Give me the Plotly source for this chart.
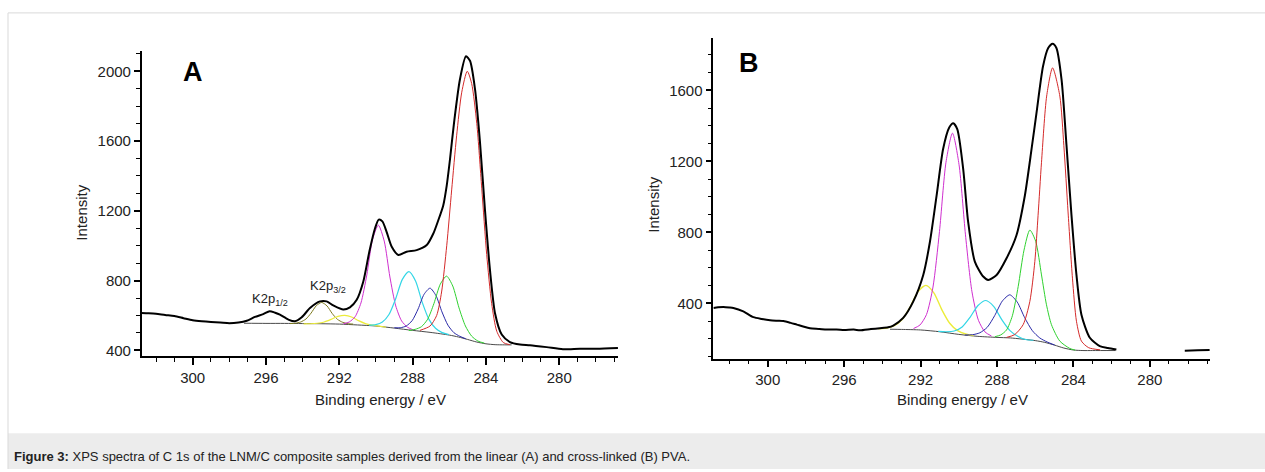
import plotly.graph_objects as go

# ---------------- Panel A (linear PVA) ----------------
A_data_E = [302.8, 302.4, 302.0, 301.5, 301.0, 300.5, 300.0, 299.5, 299.0, 298.5, 298.0, 297.5, 297.05,
            296.6, 296.15, 295.8, 295.5, 295.24, 294.78, 294.42, 294.05, 293.6, 293.05, 292.69, 292.33,
            291.78, 291.42, 291.05, 290.69, 290.36, 290.05, 289.85, 289.65, 289.42, 289.14, 288.78, 288.33,
            287.78, 287.23, 286.87, 286.6, 286.33, 286.14, 285.96, 285.74, 285.42, 285.09, 284.87, 284.6,
            284.33, 284.05, 283.78, 283.5, 283.14, 282.69, 282.14, 281.6, 280.69, 279.8, 278.87, 277.96, 276.8]
A_data_I = [615, 613, 610, 603, 597, 585, 573, 567, 563, 560, 556, 560, 570,
            592, 608, 625, 616, 605, 577, 567, 590, 643, 681, 681, 658,
            634, 647, 690, 795, 967, 1100, 1150, 1140, 1080, 994, 947, 966,
            975, 1004, 1070, 1146, 1231, 1345, 1497, 1706, 1953, 2086, 2060, 1900,
            1600, 1200, 860, 610, 491, 448, 434, 430, 419, 407, 410, 410, 414]

A_base_E = [297.2, 296.0, 295.0, 294.0, 293.0, 292.0, 291.0, 290.0, 289.0, 288.0, 287.0, 286.0, 285.5,
            285.0, 284.5, 284.0, 283.5, 283.0, 282.6]
A_base_I = [556, 555, 555, 554, 553, 551, 546, 540, 528, 515, 503, 488, 477,
            463, 448, 438, 433, 432, 432]

A_red_E = [287.6, 287.05, 286.69, 286.42, 286.14, 285.87, 285.6, 285.32, 285.02, 284.78, 284.5, 284.23,
           283.96, 283.69, 283.41, 283.05, 282.7]
A_red_I = [515, 540, 600, 735, 1000, 1320, 1630, 1880, 2000, 1930, 1700, 1330, 950, 670, 510, 445, 433]

A_green_E = [288.21, 287.86, 287.52, 287.18, 286.84, 286.49, 286.15, 285.81, 285.47, 285.12, 284.78, 284.44, 284.09]
A_green_I = [514, 521, 536, 579, 668, 780, 826, 769, 644, 540, 482, 454, 442]

A_blue_E = [289.0, 288.675, 288.35, 288.025, 287.7, 287.375, 287.05, 286.725, 286.4, 286.075, 285.75, 285.425, 285.1]
A_blue_I = [530, 530, 540, 571, 638, 722, 757, 714, 621, 545, 502, 481, 467]

A_cyan_E = [290.38, 290.01, 289.65, 289.29, 288.93, 288.56, 288.2, 287.84, 287.48, 287.11, 286.75, 286.39, 286.03]
A_cyan_I = [545, 548, 563, 606, 695, 807, 852, 798, 677, 578, 527, 502, 491]

A_magenta_E = [291.78, 291.46, 291.14, 290.82, 290.5, 290.19, 289.87, 289.55, 289.24, 288.92, 288.6, 288.28, 287.97]
A_magenta_I = [553, 563, 593, 672, 832, 1034, 1118, 1027, 821, 655, 569, 533, 518]

A_yellow_E = [293.95, 293.575, 293.2, 292.825, 292.45, 292.075, 291.7, 291.325, 290.95, 290.575, 290.2, 289.825, 289.45]
A_yellow_I = [552, 553, 556, 563, 578, 595, 601, 592, 571, 554, 545, 539, 533]

A_olive_E = [294.69, 294.4, 294.11, 293.82, 293.54, 293.25, 292.96, 292.67, 292.39, 292.1, 291.81, 291.52, 291.24]
A_olive_I = [554, 556, 563, 580, 614, 657, 675, 655, 612, 578, 561, 553, 551]

# ---------------- Panel B (cross-linked PVA) ----------------
B_data_E = [302.84, 302.6, 302.32, 302.0, 301.8, 301.28, 300.75, 300.3, 299.88, 299.5, 299.18, 298.8, 298.48,
            298.1, 297.79, 297.3, 296.91, 296.4, 296.0, 295.5, 295.17, 294.6, 294.13, 293.7, 293.43, 292.91,
            292.38, 291.86, 291.51, 291.16, 290.82, 290.5, 290.29, 290.08, 289.77, 289.51, 289.16, 288.72,
            288.46, 288.02, 287.5, 286.98, 286.54, 286.19, 285.93, 285.59, 285.32, 285.09, 284.89, 284.62,
            284.36, 284.1, 283.84, 283.58, 283.14, 282.62, 282.2, 281.75, None, 278.17, 277.5, 276.87]
B_data_I = [374, 378, 380, 377, 374, 355, 322, 312, 305, 302, 300, 290, 280,
            268, 260, 256, 252, 253, 250, 252, 248, 255, 260, 265, 275, 318,
            411, 560, 747, 1008, 1270, 1391, 1415, 1382, 1158, 859, 635, 551,
            532, 560, 654, 784, 1008, 1270, 1475, 1736, 1839, 1863, 1839, 1661,
            1288, 896, 560, 336, 206, 159, 148, 140, None, 133, 135, 137]

B_base_E = [293.6, 293.0, 292.0, 291.0, 290.0, 289.0, 288.0, 287.3, 286.0, 285.5, 285.0, 284.5, 284.0,
            283.5, 283.0, 281.8]
B_base_I = [254, 253, 250, 240, 225, 214, 208, 205, 190, 180, 165, 148, 137, 134, 134, 134]

B_red_E = [287.5, 287.07, 286.63, 286.28, 286.02, 285.85, 285.67, 285.4, 285.09, 284.71, 284.5, 284.28,
           284.05, 283.84, 283.58, 283.2, 282.6]
B_red_I = [208, 224, 280, 411, 635, 896, 1195, 1568, 1727, 1568, 1288, 915, 542, 299, 187, 150, 138]

B_green_E = [288.11, 287.805, 287.5, 287.195, 286.89, 286.585, 286.28, 285.975, 285.67, 285.41, 285.15,
             284.71, 284.19, 283.9]
B_green_I = [212, 222, 250, 330, 495, 700, 813, 750, 560, 392, 280, 187, 146, 136]

B_blue_E = [289.69, 289.29, 288.9, 288.51, 288.12, 287.72, 287.33, 286.94, 286.55, 286.15, 285.76, 285.37, 284.98]
B_blue_I = [222, 223, 234, 265, 331, 413, 448, 407, 319, 246, 205, 182, 165]

B_cyan_E = [291.07, 290.655, 290.24, 289.825, 289.41, 288.995, 288.58, 288.165, 287.75, 287.335, 286.92, 286.505, 286.09]
B_cyan_I = [242, 240, 244, 267, 321, 388, 416, 382, 308, 248, 215, 196, 192]

B_magenta_E = [292.37, 292.03, 291.69, 291.35, 291.01, 290.67, 290.33, 289.99, 289.65, 289.31, 288.97, 288.63, 288.29]
B_magenta_I = [258, 278, 337, 492, 805, 1195, 1359, 1184, 786, 465, 304, 239, 216]

B_yellow_E = [294.21, 293.795, 293.38, 292.965, 292.55, 292.135, 291.72, 291.305, 290.89, 290.475, 290.06, 289.645, 289.23]
B_yellow_I = [256, 260, 274, 309, 379, 466, 501, 459, 365, 288, 246, 227, 218]

# ---------------- text ----------------
x_title = "Binding energy / eV"
y_title = "Intensity"
caption = ("<b>Figure 3:</b> XPS spectra of C 1s of the LNM/C composite samples derived from the "
           "linear (A) and cross-linked (B) PVA.")

FONT = "Liberation Sans, Arial, sans-serif"
W, H = 1265, 472

fig = go.Figure()


def add(E, I, color, width, xa, ya):
    fig.add_trace(go.Scatter(x=E, y=I, mode="lines", xaxis=xa, yaxis=ya,
                             line=dict(color=color, width=width, shape="spline", smoothing=0.7),
                             connectgaps=False, showlegend=False, hoverinfo="skip"))


C_RED, C_GREEN, C_BLUE = "#d42a2a", "#2fd12f", "#2a2aa8"
C_CYAN, C_MAG, C_YEL, C_OLIVE = "#33d6e6", "#cf2fcf", "#ecec3a", "#7d7a1e"
C_BASE = "#4a4a4a"

# panel A
add(A_base_E, A_base_I, C_BASE, 1, "x", "y")
add(A_olive_E, A_olive_I, C_OLIVE, 1, "x", "y")
add(A_yellow_E, A_yellow_I, C_YEL, 1.2, "x", "y")
add(A_magenta_E, A_magenta_I, C_MAG, 1, "x", "y")
add(A_cyan_E, A_cyan_I, C_CYAN, 1.2, "x", "y")
add(A_blue_E, A_blue_I, C_BLUE, 1, "x", "y")
add(A_green_E, A_green_I, C_GREEN, 1, "x", "y")
add(A_red_E, A_red_I, C_RED, 1, "x", "y")
add(A_data_E, A_data_I, "black", 2, "x", "y")

# panel B
add(B_base_E, B_base_I, C_BASE, 1, "x2", "y2")
add(B_yellow_E, B_yellow_I, C_YEL, 1.4, "x2", "y2")
add(B_magenta_E, B_magenta_I, C_MAG, 1, "x2", "y2")
add(B_cyan_E, B_cyan_I, C_CYAN, 1.2, "x2", "y2")
add(B_blue_E, B_blue_I, C_BLUE, 1, "x2", "y2")
add(B_green_E, B_green_I, C_GREEN, 1, "x2", "y2")
add(B_red_E, B_red_I, C_RED, 1, "x2", "y2")
add(B_data_E, B_data_I, "black", 2, "x2", "y2")


def px_x(p):
    return p / W


def px_y(p):
    return 1 - p / H


common = dict(showline=True, linecolor="black", linewidth=1.5, ticks="outside", tickcolor="black",
              tickwidth=1.5, showgrid=False, zeroline=False, mirror=False,
              tickfont=dict(family=FONT, size=15, color="#222222"))

xminor = dict(ticks="outside", tick0=300, dtick=1, ticklen=4, tickwidth=1.2, tickcolor="black")
yminor = dict(ticks="outside", tick0=0, dtick=100, ticklen=4, tickwidth=1.2, tickcolor="black")

fig.update_layout(
    width=W, height=H, autosize=False,
    margin=dict(l=0, r=0, t=0, b=0),
    paper_bgcolor="white", plot_bgcolor="white",
    xaxis=dict(common, domain=[px_x(141.7), px_x(618.3)], range=[302.78, 276.78], tickmode="linear",
               tick0=300, dtick=4, ticklen=7, minor=xminor, anchor="y"),
    yaxis=dict(common, domain=[px_y(358.3), px_y(51.7)], range=[368, 2114], tickmode="linear",
               tick0=400, dtick=400, ticklen=6, minor=yminor, anchor="x"),
    xaxis2=dict(common, domain=[px_x(713.3), px_x(1210)], range=[302.85, 276.85], tickmode="linear",
                tick0=300, dtick=4, ticklen=7, minor=xminor, anchor="y2"),
    yaxis2=dict(common, domain=[px_y(361), px_y(38.3)], range=[88, 1895], tickmode="linear",
                tick0=400, dtick=400, ticklen=6, minor=yminor, anchor="x2"),
)

border = "#d9d9d9"
fig.update_layout(shapes=[
    dict(type="rect", xref="paper", yref="paper", x0=px_x(8), x1=1, y0=0, y1=px_y(436),
         fillcolor="#ececec", line=dict(width=0), layer="below"),
    dict(type="line", xref="paper", yref="paper", x0=px_x(8), x1=1, y0=px_y(13), y1=px_y(13),
         line=dict(color=border, width=1)),
    dict(type="line", xref="paper", yref="paper", x0=px_x(8), x1=px_x(8), y0=0, y1=px_y(13),
         line=dict(color=border, width=1)),
])

ann = []
tf = dict(family=FONT, size=15, color="#222222")
ann.append(dict(text=x_title, xref="paper", yref="paper", x=px_x(380), y=px_y(401.7), showarrow=False,
                xanchor="center", yanchor="middle", font=tf))
ann.append(dict(text=x_title, xref="paper", yref="paper", x=px_x(962), y=px_y(401.7), showarrow=False,
                xanchor="center", yanchor="middle", font=tf))
ann.append(dict(text=y_title, xref="paper", yref="paper", x=px_x(82), y=px_y(214), showarrow=False,
                xanchor="center", yanchor="middle", textangle=-90, font=tf))
ann.append(dict(text=y_title, xref="paper", yref="paper", x=px_x(654), y=px_y(206), showarrow=False,
                xanchor="center", yanchor="middle", textangle=-90, font=tf))
pf = dict(family=FONT, size=27, color="black")
ann.append(dict(text="<b>A</b>", xref="paper", yref="paper", x=px_x(192.5), y=px_y(72), showarrow=False,
                xanchor="center", yanchor="middle", font=pf))
ann.append(dict(text="<b>B</b>", xref="paper", yref="paper", x=px_x(749), y=px_y(63), showarrow=False,
                xanchor="center", yanchor="middle", font=pf))
kf = dict(family=FONT, size=13, color="#222222")
ann.append(dict(text="K2p<sub>1/2</sub>", xref="x", yref="y", x=296.85, y=690, showarrow=False,
                xanchor="left", yanchor="middle", font=kf))
ann.append(dict(text="K2p<sub>3/2</sub>", xref="x", yref="y", x=293.7, y=764, showarrow=False,
                xanchor="left", yanchor="middle", font=kf))
ann.append(dict(text=caption, xref="paper", yref="paper", x=px_x(12), y=px_y(459), showarrow=False,
                xanchor="left", yanchor="middle", font=dict(family=FONT, size=13, color="#222222")))
fig.update_layout(annotations=ann)

fig.write_html("out.html", config={"displayModeBar": False})
